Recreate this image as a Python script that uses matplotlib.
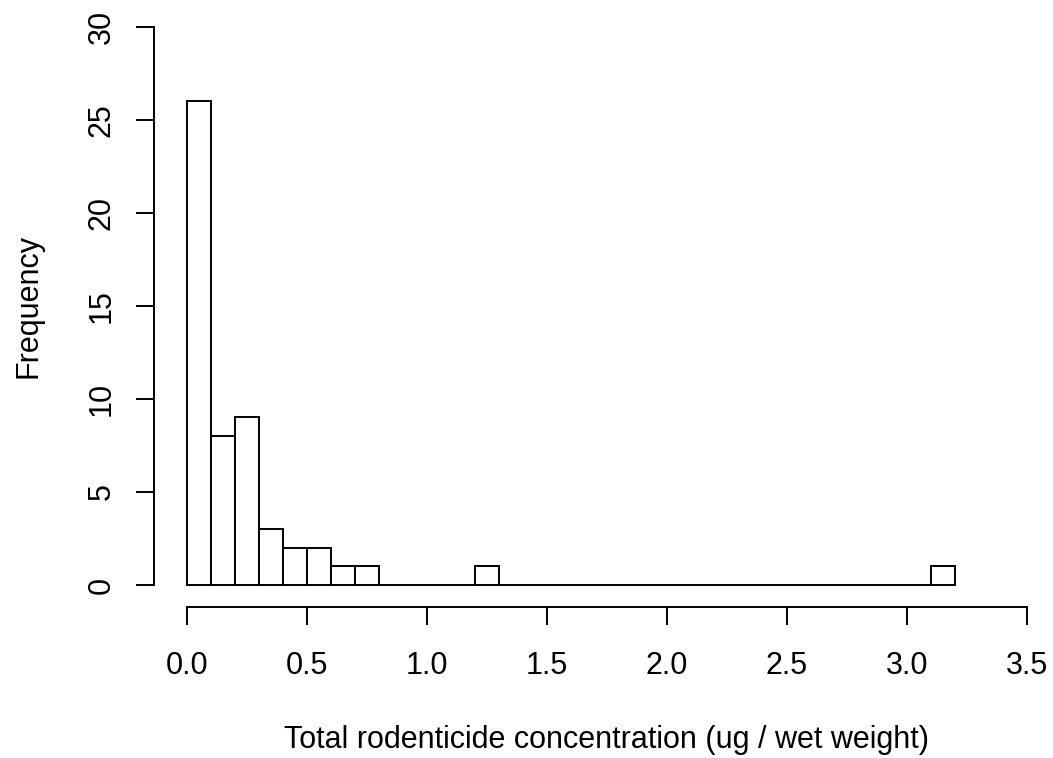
import matplotlib
matplotlib.use("Agg")
import matplotlib.pyplot as plt

# Data (histogram, bin width 0.1)
bin_starts = [0.0, 0.1, 0.2, 0.3, 0.4, 0.5, 0.6, 0.7, 0.8, 0.9, 1.0, 1.1,
              1.2, 1.3, 1.4, 1.5, 1.6, 1.7, 1.8, 1.9, 2.0, 2.1, 2.2, 2.3,
              2.4, 2.5, 2.6, 2.7, 2.8, 2.9, 3.0, 3.1]
counts = [26, 8, 9, 3, 2, 2, 1, 1, 0, 0, 0, 0,
          1, 0, 0, 0, 0, 0, 0, 0, 0, 0, 0, 0,
          0, 0, 0, 0, 0, 0, 0, 1]
bin_width = 0.1
x_ticks = [0.0, 0.5, 1.0, 1.5, 2.0, 2.5, 3.0, 3.5]
x_tick_labels = ["0.0", "0.5", "1.0", "1.5", "2.0", "2.5", "3.0", "3.5"]
y_ticks = [0, 5, 10, 15, 20, 25, 30]
y_tick_labels = ["0", "5", "10", "15", "20", "25", "30"]
x_label = "Total rodenticide concentration (ug / wet weight)"
y_label = "Frequency"

W, H = 1053, 758
FS = 22
LW = 1.4
plt.rcParams['font.family'] = ['Liberation Sans', 'DejaVu Sans']

fig = plt.figure(figsize=(W / 100, H / 100), dpi=100)
fig.patch.set_facecolor("white")

# axes placement in pixels (R-like plot region)
left_px, right_px = 153.7, 1060.2
top_px, bottom_px = 4.4, 607.3
ax = fig.add_axes([left_px / W, 1 - bottom_px / H,
                   (right_px - left_px) / W, (bottom_px - top_px) / H])
ax.set_xlim(-0.14, 3.64)
ax.set_ylim(-1.2, 31.2)

ax.bar(bin_starts, counts, width=bin_width, align="edge",
       facecolor="white", edgecolor="black", linewidth=LW)

for s in ["top", "right"]:
    ax.spines[s].set_visible(False)
ax.spines["left"].set_bounds(0, 30)
ax.spines["bottom"].set_bounds(0, 3.5)
for s in ["left", "bottom"]:
    ax.spines[s].set_linewidth(LW)

ax.set_xticks(x_ticks)
ax.set_xticklabels(x_tick_labels)
ax.set_yticks(y_ticks)
ax.set_yticklabels(y_tick_labels, rotation=90, va="center")
ax.tick_params(axis="both", direction="out", length=12.96, width=LW,
               labelsize=FS, colors="black")
ax.tick_params(axis="x", pad=18.5)
ax.tick_params(axis="y", pad=13.9)

# axis titles
cx = (left_px + right_px) / 2
cy = (top_px + bottom_px) / 2
fig.text(cx / W, 1 - 748 / H, x_label, fontsize=FS, ha="center",
         va="baseline")
fig.text(36.5 / W, 1 - cy / H, y_label, fontsize=FS, rotation=90,
         rotation_mode="anchor", ha="center", va="baseline")

fig.savefig("out.png", dpi=100, facecolor="white")
